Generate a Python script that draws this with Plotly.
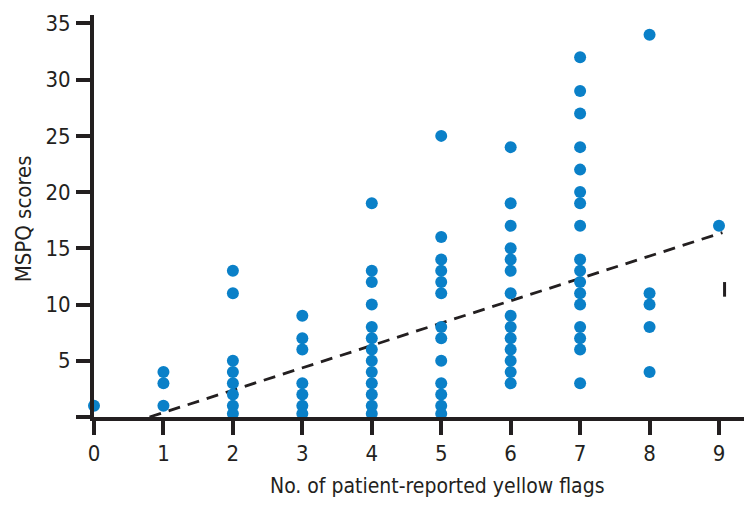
import plotly.graph_objects as go

# Data: MSPQ score per patient by number of yellow flags
flags_0 = [1]
flags_1 = [4, 3, 1]
flags_2 = [13, 11, 5, 4, 3, 2, 1, 0.3]
flags_3 = [9, 7, 6, 3, 2, 1, 0.3]
flags_4 = [19, 13, 12, 10, 8, 7, 6, 5, 4, 3, 2, 1, 0.3]
flags_5 = [25, 16, 14, 13, 12, 11, 8, 7, 5, 3, 2, 1, 0.3]
flags_6 = [24, 19, 17, 15, 14, 13, 11, 9, 8, 7, 6, 5, 4, 3]
flags_7 = [32, 29, 27, 24, 22, 20, 19, 17, 14, 13, 12, 11, 10, 8, 7, 6, 3]
flags_8 = [34, 11, 10, 8, 4]
flags_9 = [17]

columns = [flags_0, flags_1, flags_2, flags_3, flags_4,
           flags_5, flags_6, flags_7, flags_8, flags_9]

# Regression (trend) line end points
trend_x = [0.8, 9.05]
trend_y = [0.0, 16.4]

# Small vertical mark at right
mark_x = [9.08, 9.08]
mark_y = [10.7, 12.0]

x_ticks = [0, 1, 2, 3, 4, 5, 6, 7, 8, 9]
y_ticks = [0, 5, 10, 15, 20, 25, 30, 35]
y_tick_text = ["", "5", "10", "15", "20", "25", "30", "35"]

x_title = "No. of patient-reported yellow flags"
y_title = "MSPQ scores"

xs, ys = [], []
for i, col in enumerate(columns):
    for v in col:
        xs.append(i)
        ys.append(v)

FONT = "Liberation Sans Narrow, DejaVu Sans Condensed, sans-serif"
INK = "#231f20"

fig = go.Figure()
fig.add_trace(go.Scatter(
    x=trend_x, y=trend_y, mode="lines",
    line=dict(color=INK, width=2.8, dash="12px,8px"),
    hoverinfo="skip", showlegend=False))
fig.add_trace(go.Scatter(
    x=xs, y=ys, mode="markers",
    marker=dict(color="#0a80c8", size=12, line=dict(width=0)),
    cliponaxis=False, showlegend=False))
fig.add_trace(go.Scatter(
    x=mark_x, y=mark_y, mode="lines",
    line=dict(color=INK, width=3),
    hoverinfo="skip", showlegend=False))

axis_common = dict(
    showgrid=False, zeroline=False, showline=True, automargin=False,
    linecolor=INK, linewidth=4, ticks="outside",
    ticklen=14, tickwidth=4, tickcolor=INK,
    tickfont=dict(family=FONT, size=22, color=INK),
)

# The page body has an 8px margin, so the figure is sized to fit inside it.
fig.update_layout(
    width=739, height=493,
    margin=dict(l=86, r=3, t=7, b=84),
    paper_bgcolor="white", plot_bgcolor="white",
    xaxis=dict(range=[0, 9.36], tickmode="array", tickvals=x_ticks,
               ticklabelstandoff=0, **axis_common),
    yaxis=dict(range=[0, 35.75], tickmode="array", tickvals=y_ticks,
               ticktext=y_tick_text, ticklabelstandoff=1, **axis_common),
    annotations=[
        dict(text=x_title, xref="paper", yref="paper", x=0.528, y=-0.1725,
             xanchor="center", yanchor="middle", showarrow=False,
             font=dict(family=FONT, size=21, color=INK)),
        dict(text=y_title, xref="paper", yref="paper", x=-0.109, y=0.492,
             xanchor="center", yanchor="middle", showarrow=False, textangle=-90,
             font=dict(family=FONT, size=22, color=INK)),
    ],
)

fig.write_html("out.html")
